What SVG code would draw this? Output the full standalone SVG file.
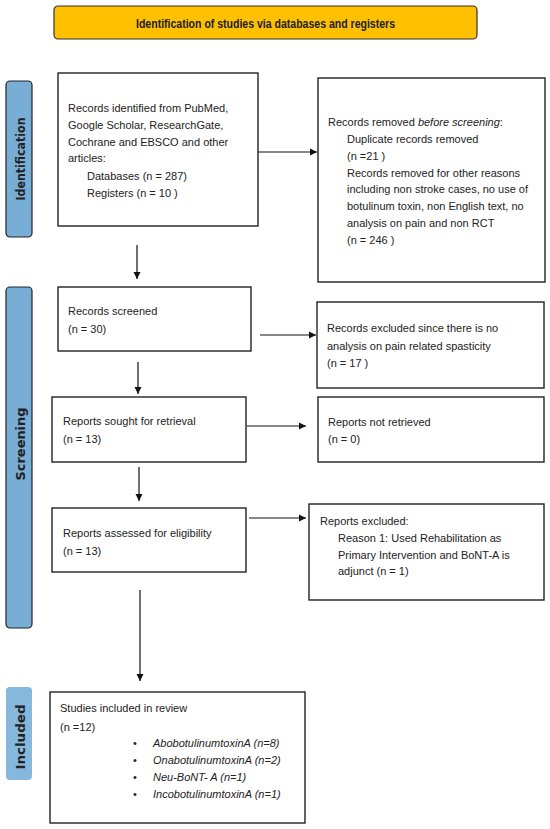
<svg xmlns="http://www.w3.org/2000/svg" width="550" height="829" viewBox="0 0 550 829">
<style>
text{font-family:"Liberation Sans",Arial,sans-serif;fill:#222;}
.t{font-size:11px;}
.i{font-style:italic;}
.box{fill:#fff;stroke:#222;stroke-width:1.4;}
.side{fill:#78AED6;stroke:#222;stroke-width:1.2;}
.sl{font-family:"DejaVu Sans",Verdana,sans-serif;font-size:11.5px;font-weight:bold;}
.con{stroke:#111;stroke-width:1.2;fill:none;marker-end:url(#ah);}
</style>
<defs>
<marker id="ah" markerWidth="8" markerHeight="8" refX="7" refY="4" orient="auto" markerUnits="userSpaceOnUse">
<path d="M0,0.5 L7,4 L0,7.5 Z" fill="#111"/>
</marker>
</defs>
<rect width="550" height="829" fill="#fff"/>

<g id="banner">
<rect x="54" y="6" width="423" height="33" rx="4" fill="#FFC000" stroke="#333" stroke-width="1.2"/>
<text x="265.5" y="28" text-anchor="middle" font-size="12" font-weight="bold" textLength="259" lengthAdjust="spacingAndGlyphs">Identification of studies via databases and registers</text>
</g>

<g id="label-identification">
<rect class="side" x="6" y="81" width="26" height="156" rx="4"/>
<text class="sl" transform="translate(24.5,159) rotate(-90)" text-anchor="middle" textLength="83" lengthAdjust="spacingAndGlyphs">Identification</text>
</g>
<g id="label-screening">
<rect class="side" x="6" y="287" width="26" height="341" rx="4"/>
<text class="sl" transform="translate(24.5,444) rotate(-90)" text-anchor="middle" textLength="73" lengthAdjust="spacingAndGlyphs">Screening</text>
</g>
<g id="label-included">
<rect x="6" y="687" width="26" height="93" rx="4" fill="#86B8DD"/>
<text class="sl" transform="translate(24.5,737) rotate(-90)" text-anchor="middle" textLength="65" lengthAdjust="spacingAndGlyphs">Included</text>
</g>

<g id="records-identified">
<rect class="box" x="58" y="73" width="200" height="153"/>
<text class="t" x="68" y="112">Records identified from PubMed,</text>
<text class="t" x="68" y="129">Google Scholar, ResearchGate,</text>
<text class="t" x="68" y="146">Cochrane and EBSCO and other</text>
<text class="t" x="68" y="162">articles:</text>
<text class="t" x="87" y="180">Databases (n = 287)</text>
<text class="t" x="87" y="197">Registers (n = 10 )</text>
</g>

<g id="records-removed">
<rect class="box" x="318" y="78" width="227" height="204"/>
<text class="t" x="328" y="126">Records removed <tspan class="i">before screening</tspan>:</text>
<text class="t" x="347" y="143">Duplicate records removed</text>
<text class="t" x="347" y="160">(n =21 )</text>
<text class="t" x="347" y="177">Records removed for other reasons</text>
<text class="t" x="347" y="193">including non stroke cases, no use of</text>
<text class="t" x="347" y="210">botulinum toxin, non English text, no</text>
<text class="t" x="347" y="227">analysis on pain and non RCT</text>
<text class="t" x="347" y="244">(n = 246 )</text>
</g>

<g id="records-screened">
<rect class="box" x="58" y="287" width="193" height="64"/>
<text class="t" x="68" y="315">Records screened</text>
<text class="t" x="68" y="333">(n = 30)</text>
</g>

<g id="records-excluded">
<rect class="box" x="317" y="302" width="227" height="86"/>
<text class="t" x="327" y="332">Records excluded since there is no</text>
<text class="t" x="327" y="350">analysis on pain related spasticity</text>
<text class="t" x="327" y="367">(n = 17 )</text>
</g>

<g id="reports-sought">
<rect class="box" x="52" y="397" width="194" height="65"/>
<text class="t" x="63" y="425">Reports sought for retrieval</text>
<text class="t" x="63" y="443">(n = 13)</text>
</g>

<g id="reports-not-retrieved">
<rect class="box" x="318" y="397" width="226" height="65"/>
<text class="t" x="328" y="426">Reports not retrieved</text>
<text class="t" x="328" y="443">(n = 0)</text>
</g>

<g id="reports-assessed">
<rect class="box" x="52" y="508" width="194" height="64"/>
<text class="t" x="63" y="537">Reports assessed for eligibility</text>
<text class="t" x="63" y="555">(n = 13)</text>
</g>

<g id="reports-excluded">
<rect class="box" x="309" y="504" width="235" height="96"/>
<text class="t" x="320" y="525">Reports excluded:</text>
<text class="t" x="338" y="542">Reason 1: Used Rehabilitation as</text>
<text class="t" x="338" y="559">Primary Intervention and BoNT-A is</text>
<text class="t" x="338" y="575">adjunct (n = 1)</text>
</g>

<g id="studies-included">
<rect class="box" x="50" y="692" width="255" height="131"/>
<text class="t" x="60" y="712">Studies included in review</text>
<text class="t" x="60" y="731">(n =12)</text>
<text class="t" x="133" y="747">•</text>
<text class="t" x="133" y="764">•</text>
<text class="t" x="133" y="781">•</text>
<text class="t" x="133" y="798">•</text>
<text class="t i" x="153" y="747">AbobotulinumtoxinA (n=8)</text>
<text class="t i" x="153" y="764">OnabotulinumtoxinA (n=2)</text>
<text class="t i" x="153" y="781">Neu-BoNT- A  (n=1)</text>
<text class="t i" x="153" y="798">IncobotulinumtoxinA (n=1)</text>
</g>

<g id="connectors">
<line class="con" x1="258" y1="152" x2="317" y2="152"/>
<line class="con" x1="137" y1="245" x2="137" y2="279"/>
<line class="con" x1="260" y1="335" x2="316" y2="335"/>
<line class="con" x1="138" y1="362" x2="138" y2="394"/>
<line class="con" x1="247" y1="426" x2="306" y2="426"/>
<line class="con" x1="139" y1="467" x2="139" y2="501"/>
<line class="con" x1="249" y1="518" x2="306" y2="518"/>
<line class="con" x1="140" y1="590" x2="140" y2="681"/>
</g>
</svg>
